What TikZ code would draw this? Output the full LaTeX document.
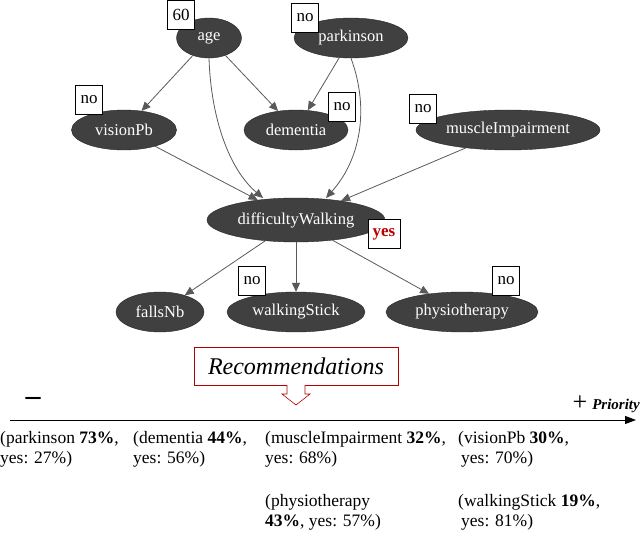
\documentclass[tikz,border=0pt]{standalone}
\usepackage{fontspec}
\setmainfont{Liberation Serif}
\usetikzlibrary{shapes.geometric,arrows.meta}
\begin{document}
\begin{tikzpicture}[x=1pt,y=-1pt,
  bn/.style={ellipse,fill=black!75,draw=black!85,text=white,inner sep=0pt,font=\fontsize{16.5}{18}\selectfont},
  ev/.style={draw=black,fill=white,line width=0.8pt,minimum width=27pt,minimum height=29pt,inner sep=0pt,font=\fontsize{17}{19}\selectfont},
  ed/.style={-{Triangle[length=9pt,width=8pt]},draw=black!65,line width=0.8pt},
  rec/.style={align=left,anchor=north west,inner sep=0pt,font=\fontsize{17.5}{20}\selectfont}]
\useasboundingbox (0,0) rectangle (640,540);
\node[bn,minimum width=65pt,minimum height=40pt] (age) at (209,38) {age};
\node[bn,minimum width=114pt,minimum height=40pt] (park) at (351,38) {parkinson};
\node[bn,minimum width=105pt,minimum height=40pt] (vis) at (124,130) {visionPb};
\node[bn,minimum width=104pt,minimum height=40pt] (dem) at (296,130) {dementia};
\node[bn,minimum width=184pt,minimum height=40pt] (mus) at (508,130) {muscleImpairment};
\node[bn,minimum width=178pt,minimum height=44pt] (dw) at (296,220) {difficultyWalking};
\node[bn,minimum width=88pt,minimum height=40pt] (falls) at (160,312) {fallsNb};
\node[bn,minimum width=138pt,minimum height=40pt] (ws) at (296,312) {walkingStick};
\node[bn,minimum width=152pt,minimum height=40pt] (phy) at (462,312) {physiotherapy};
\node[ev] (e1) at (181,15) {60};
\node[ev] (e2) at (305,18) {no};
\node[ev] (e3) at (89,100) {no};
\node[ev] (e4) at (342,107) {no};
\node[ev] (e5) at (423,109) {no};
\node[ev,text=red!75!black,font=\fontsize{17}{19}\selectfont\bfseries,minimum width=32pt] (e6) at (384,234) {yes};
\node[ev] (e7) at (252,281) {no};
\node[ev] (e8) at (506,281) {no};
\draw[ed] (age) -- (vis);
\draw[ed] (age) -- (dem);
\draw[ed] (age.south) .. controls (211,120) and (230,170) .. (263,198);
\draw[ed] (park) -- (dem);
\draw[ed] (park.south) .. controls (370,110) and (360,160) .. (326,198);
\draw[ed] (vis) -- (dw);
\draw[ed] (mus) -- (dw);
\draw[ed] (dw) -- (falls);
\draw[ed] (dw) -- (ws);
\draw[ed] (dw) -- (phy);
% recommendations
\node[draw=red!70!black,fill=white,line width=0.6pt,minimum width=204pt,minimum height=38pt,font=\fontsize{24}{26}\selectfont\itshape] (recb) at (296,366) {Recommendations};
\coordinate (tip) at (296,405);
\draw[draw=red!70!black,fill=white,line width=0.6pt] (287,385) -- (287,394) -- (282,394) -- (tip) -- (310,394) -- (305,394) -- (305,385);
\coordinate (a0) at (10,420);
\coordinate (a1) at (636,420);
\draw[-{Triangle[length=11pt,width=8pt]},line width=1pt] (a0) -- (a1);
\node[font=\fontsize{30}{32}\selectfont\bfseries] (minus) at (33,401) {\textendash};
\node[font=\fontsize{26}{28}\selectfont] (plus) at (580,403) {+};
\node[font=\fontsize{15}{17}\selectfont\bfseries\itshape,anchor=east,inner sep=0pt] (pri) at (640,406) {Priority};
\node[rec] (r1) at (0,431) {(parkinson \textbf{73\%},\\yes: 27\%)};
\node[rec] (r2) at (133,431) {(dementia \textbf{44\%},\\yes: 56\%)};
\node[rec] (r3) at (265,431) {(muscleImpairment \textbf{32\%},\\yes: 68\%)};
\node[rec] (r4) at (458,431) {(visionPb \textbf{30\%},\\\hspace*{3pt}yes: 70\%)};
\node[rec] (r5) at (265,494) {(physiotherapy\\\textbf{43\%}, yes: 57\%)};
\node[rec] (r6) at (458,494) {(walkingStick \textbf{19\%},\\\hspace*{3pt}yes: 81\%)};
\end{tikzpicture}
\end{document}
